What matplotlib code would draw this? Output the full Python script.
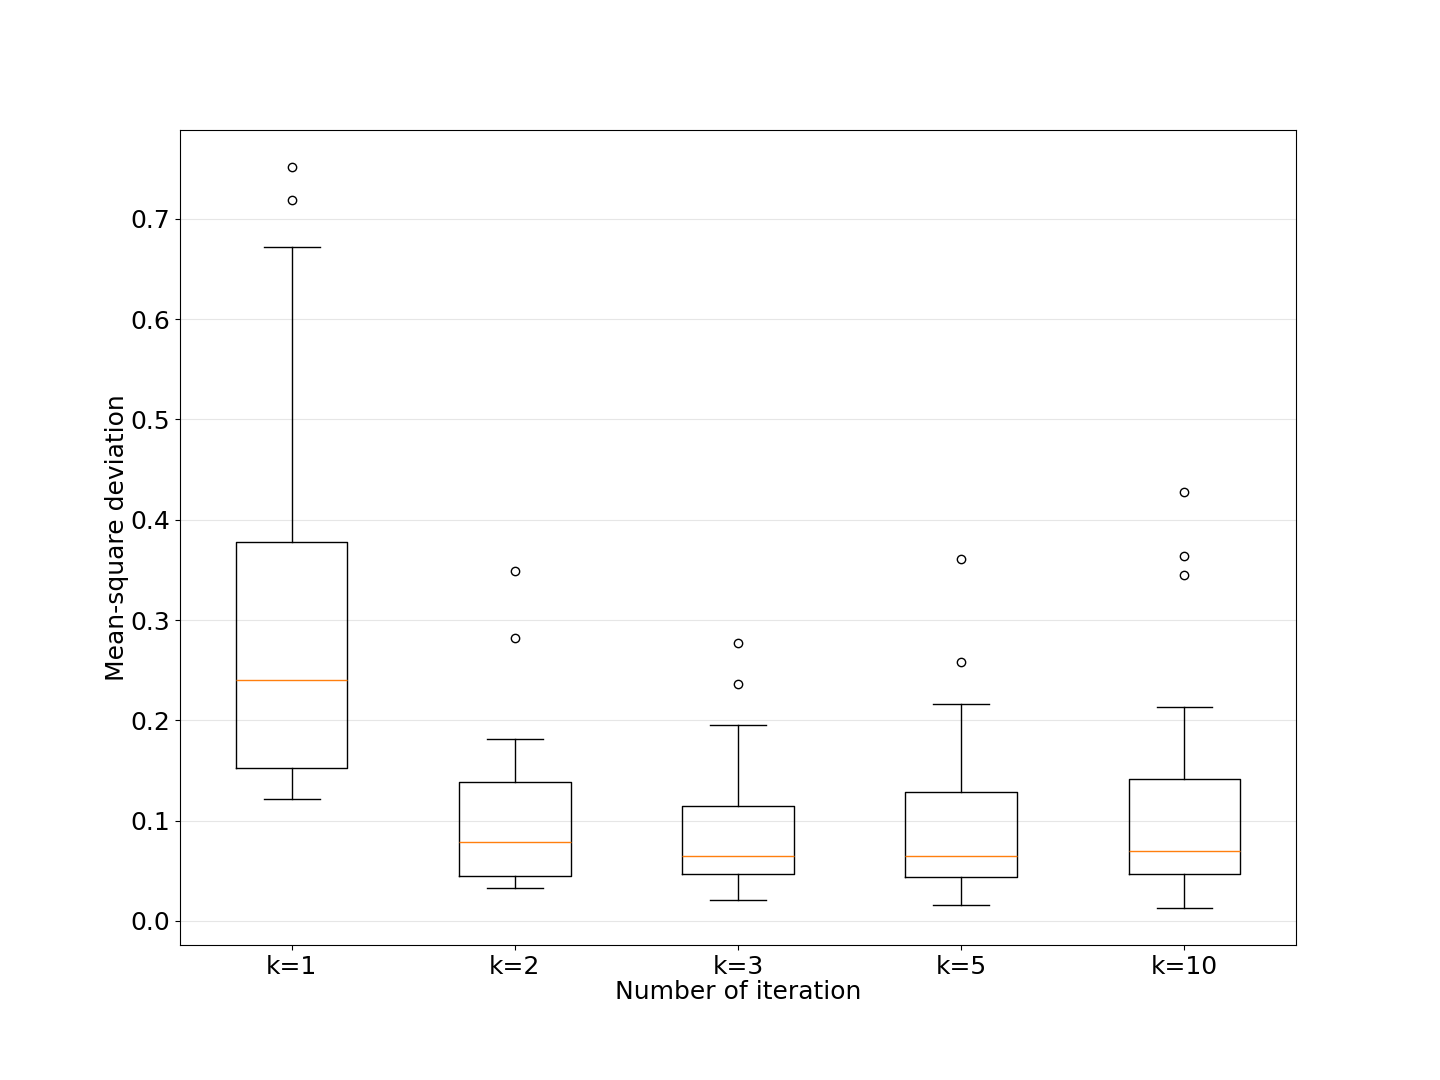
import matplotlib
matplotlib.use("Agg")
import matplotlib.pyplot as plt

labels = ["k=1", "k=2", "k=3", "k=5", "k=10"]
whis_lo = [0.1216, 0.0329, 0.0209, 0.0160, 0.0130]
q1 = [0.1525, 0.0449, 0.0469, 0.0439, 0.0469]
medians = [0.2400, 0.0788, 0.0648, 0.0648, 0.0698]
q3 = [0.3780, 0.1386, 0.1147, 0.1286, 0.1416]
whis_hi = [0.6720, 0.1815, 0.1954, 0.2164, 0.2134]
fliers = [[0.752, 0.719],
          [0.349, 0.282],
          [0.277, 0.236],
          [0.361, 0.258],
          [0.428, 0.364, 0.345]]

stats = []
for i in range(len(labels)):
    stats.append({"label": labels[i], "whislo": whis_lo[i], "q1": q1[i],
                  "med": medians[i], "q3": q3[i], "whishi": whis_hi[i],
                  "fliers": fliers[i]})

fig, ax = plt.subplots(figsize=(14.4, 10.8), dpi=100)
fig.subplots_adjust(left=0.125, right=0.9, top=0.88, bottom=0.125)

ax.bxp(stats, positions=range(1, len(labels) + 1), widths=0.5)

ax.yaxis.grid(True, color="0.9", linewidth=0.8)
ax.set_axisbelow(True)
ax.set_xlim(0.5, 5.5)
ax.set_ylim(-0.024, 0.789)

ax.tick_params(labelsize=18)
ax.set_xlabel("Number of iteration", fontsize=18, labelpad=1)
ax.set_ylabel("Mean-square deviation", fontsize=18, labelpad=1)

plt.savefig("out.png", dpi=100)
